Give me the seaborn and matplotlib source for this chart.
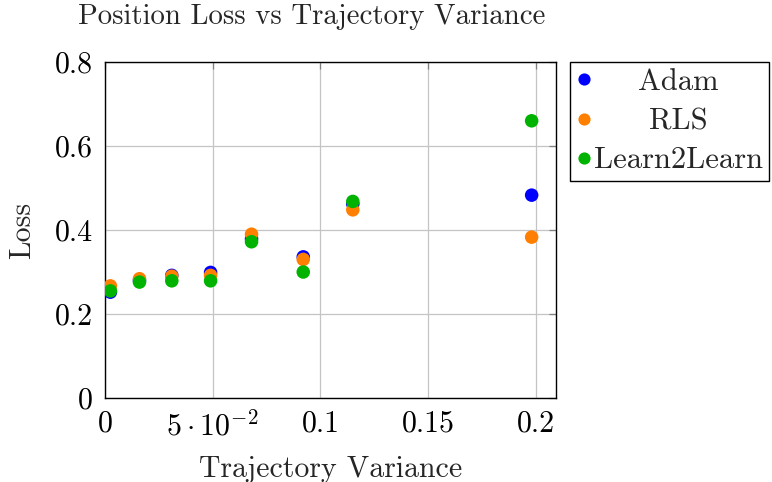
import matplotlib
matplotlib.use("Agg")
import matplotlib.pyplot as plt
import seaborn as sns
import pandas as pd

# Trajectory variance of each test set (x) and the position loss of each optimiser (y)
variance = [0.0025, 0.016, 0.031, 0.049, 0.068, 0.092, 0.115, 0.198]
adam = [0.252, 0.280, 0.292, 0.299, 0.379, 0.336, 0.462, 0.483]
rls = [0.267, 0.284, 0.290, 0.292, 0.390, 0.330, 0.448, 0.383]
learn2learn = [0.255, 0.276, 0.279, 0.279, 0.372, 0.300, 0.468, 0.660]

methods = ["Adam", "RLS", "Learn2Learn"]
colors = ["#0000ff", "#ff8000", "#00b300"]

x_ticks = [0, 0.05, 0.1, 0.15, 0.2]
x_tick_labels = ["0", r"$5\cdot10^{-2}$", "0.1", "0.15", "0.2"]
y_ticks = [0, 0.2, 0.4, 0.6, 0.8]
y_tick_labels = ["0", "0.2", "0.4", "0.6", "0.8"]

df = pd.DataFrame({
    "variance": variance * 3,
    "loss": adam + rls + learn2learn,
    "method": [m for m in methods for _ in variance],
})

sns.set_theme(style="white")
plt.rcParams["font.family"] = ["cmr10", "DejaVu Serif"]
plt.rcParams["mathtext.fontset"] = "cm"
plt.rcParams["axes.formatter.use_mathtext"] = True
plt.rcParams["axes.unicode_minus"] = True

W, H = 772, 482
fig = plt.figure(figsize=(W / 100, H / 100), dpi=100)
left, right, top, bottom = 105, 556, 62, 398
ax = fig.add_axes([left / W, 1 - bottom / H, (right - left) / W, (bottom - top) / H])

fs = 21.5

sns.scatterplot(
    data=df, x="variance", y="loss", hue="method", hue_order=methods,
    palette=colors, s=95, linewidth=0, ax=ax, zorder=3, legend=True,
)

ax.set_xlim(0, 0.2093)
ax.set_ylim(0, 0.8)
ax.set_xticks(x_ticks)
ax.set_xticklabels(x_tick_labels, fontsize=fs)
ax.set_yticks(y_ticks)
ax.set_yticklabels(y_tick_labels, fontsize=fs)
ax.grid(True, color="#c4c4c4", linewidth=0.9)
ax.set_axisbelow(True)
ax.tick_params(direction="in", length=5, width=0.9, color="#808080",
               top=True, right=True, labelcolor="black", pad=9)
for sp in ax.spines.values():
    sp.set_color("black")
    sp.set_linewidth(1.0)

ax.set_xlabel("Trajectory Variance", fontsize=fs)
ax.set_ylabel("Loss", fontsize=fs)
ax.xaxis.set_label_coords(0.5, (bottom - 456) / (bottom - top))
ax.yaxis.set_label_coords((22 - left) / (right - left), 0.5)
ax.yaxis.label.set_va("center")

fig.text(311.5 / W, 1 - 17 / H, "Position Loss vs Trajectory Variance",
         fontsize=20.8, ha="center", va="center")

handles, labels = ax.get_legend_handles_labels()
leg = ax.legend(
    handles, labels, loc="upper left",
    bbox_to_anchor=((570 - left) / (right - left), 1.0),
    fontsize=22, frameon=True, fancybox=False, shadow=False,
    borderaxespad=0, borderpad=0.22, labelspacing=0.38,
    handlelength=0.45, handletextpad=0.1, markerscale=0.9,
)
leg.get_frame().set_edgecolor("black")
leg.get_frame().set_linewidth(1.0)
leg.get_frame().set_alpha(1)

# centre each legend label within the widest label's width
for t in leg.get_texts():
    t.set_ha("center")
fig.canvas.draw()
widths = [t.get_window_extent().width for t in leg.get_texts()]
wmax = max(widths)
for t, w in zip(leg.get_texts(), widths):
    t.set_x((wmax - w) / 2)

fig.savefig("out.png", dpi=100)
